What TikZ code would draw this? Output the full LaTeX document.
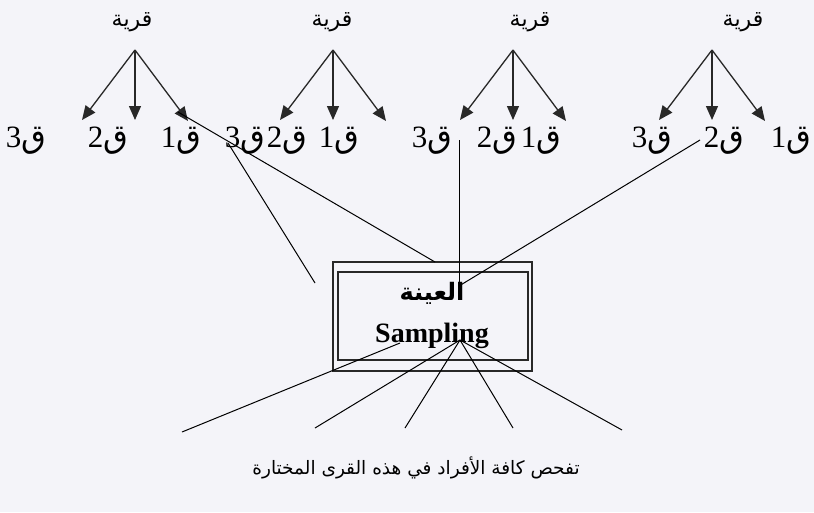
\documentclass[tikz,border=0pt]{standalone}
\usepackage{fontspec}
\setmainfont{Liberation Serif}
\newfontfamily\ar[Script=Arabic]{DejaVu Sans}
\TeXXeTstate=1
\usetikzlibrary{arrows.meta}
\definecolor{bg}{RGB}{244,244,249}
\definecolor{ink}{RGB}{40,40,40}
\begin{document}
\begin{tikzpicture}[x=1pt,y=-1pt,
  village/.style={font=\ar\fontsize{22}{26}\selectfont, inner sep=0pt},
  lab/.style={font=\fontsize{31}{34}\selectfont, inner sep=0pt, anchor=base},
  arr/.style={draw=ink, line width=1.3pt, -{Triangle[length=14pt,width=12pt]}},
  conn/.style={draw=black, line width=1pt},
  frame/.style={draw=ink, line width=1.3pt, inner sep=0pt}]
\fill[bg] (0,0) rectangle (814,512);
\useasboundingbox (0,0) rectangle (814,512);

% villages and apexes
\foreach \i/\tx/\ax in {1/132/135, 2/332/333, 3/530/513, 4/743/712}{
  \node[village] (v\i) at (\tx,22) {\beginR قرية\endR};
  \coordinate (a\i) at (\ax,50);
  \coordinate (e\i a) at (\ax-53,120);
  \coordinate (e\i b) at (\ax,120);
  \coordinate (e\i c) at (\ax+53,121);
  \draw[arr] (a\i) -- (e\i a);
  \draw[arr] (a\i) -- (e\i b);
  \draw[arr] (a\i) -- (e\i c);
}

% labels
\foreach \n/\x/\d in {l13/26/3, l12/108/2, l11/181/1,
                      l23/245/3, l22/287/2, l21/339/1,
                      l33/432/3, l32/497/2, l31/541/1,
                      l43/652/3, l42/724/2, l41/791/1}{
  \node[lab] (\n) at (\x,147) {\d{\ar\fontsize{32}{36}\selectfont ق}};
}

% sample box
\node[frame, minimum width=199pt, minimum height=109pt] (box) at (432.5,316.5) {};
\node[frame, minimum width=190pt, minimum height=88pt] (inbox) at (433,316) {};
\node[font=\ar\bfseries\fontsize{24}{27}\selectfont, inner sep=0pt] (t1) at (432,293) {\beginR العينة\endR};
\node[font=\bfseries\fontsize{28}{32}\selectfont, inner sep=0pt] (t2) at (432,336) {Sampling};

% connectors from villages to the sample
\coordinate (s1) at (178,112);
\coordinate (f1) at (435,262);
\coordinate (s2) at (228,143);
\coordinate (f2) at (315,283);
\coordinate (s3) at (459,140);
\coordinate (f3) at (459,286);
\coordinate (s4) at (700,140);
\draw[conn] (s1) -- (f1);
\draw[conn] (s2) -- (f2);
\draw[conn] (s3) -- (f3);
\draw[conn] (s4) -- (f3);

% fan to the individuals
\coordinate (hub) at (460,340);
\coordinate (hub2) at (400,343);
\coordinate (b1) at (182,432);
\coordinate (b2) at (315,428);
\coordinate (b3) at (405,428);
\coordinate (b4) at (513,428);
\coordinate (b5) at (622,430);
\draw[conn] (hub2) -- (b1);
\foreach \k in {2,3,4,5}{ \draw[conn] (hub) -- (b\k); }

\node[font=\ar\fontsize{18.5}{22}\selectfont, inner sep=0pt] (bottom) at (416,468)
  {\beginR تفحص كافة الأفراد في هذه القرى المختارة\endR};
\end{tikzpicture}
\end{document}
